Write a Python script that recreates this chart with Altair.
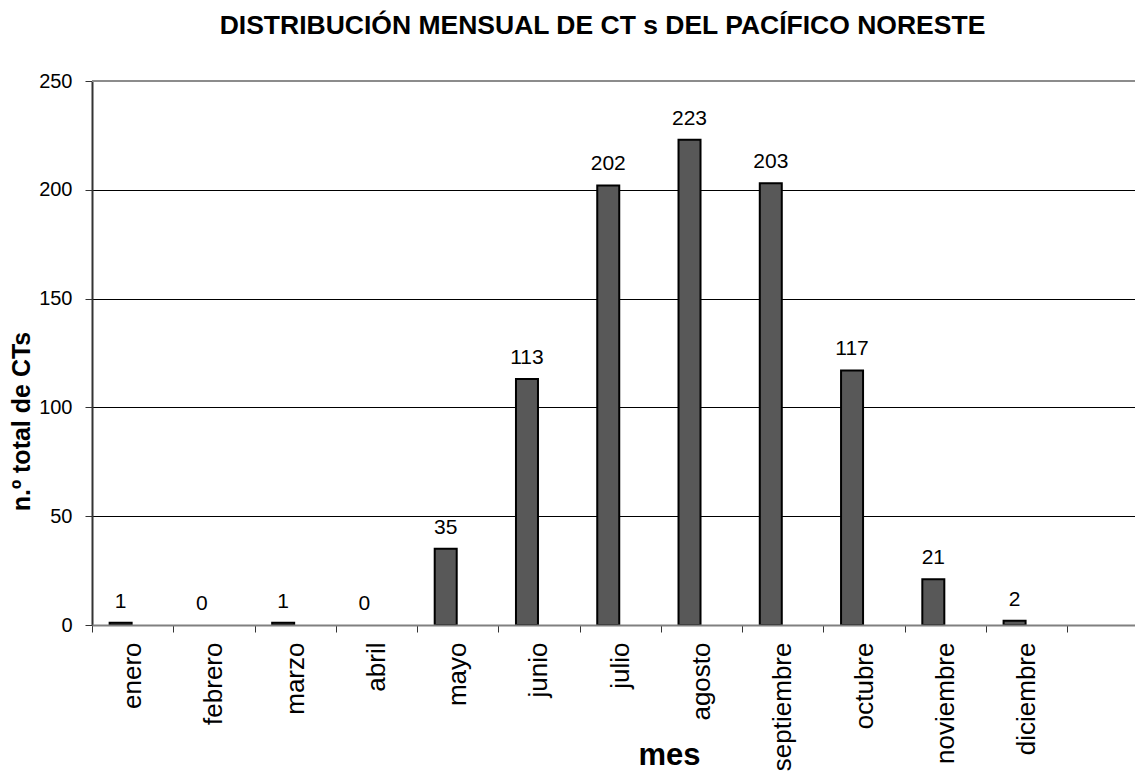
import altair as alt
import pandas as pd

meses = ["enero", "febrero", "marzo", "abril", "mayo", "junio", "julio",
         "agosto", "septiembre", "octubre", "noviembre", "diciembre"]
valores = [1, 0, 1, 0, 35, 113, 202, 223, 203, 117, 21, 2]
y_ticks = [0, 50, 100, 150, 200, 250]

df = pd.DataFrame({"mes": meses, "n": valores})

FONT = "Liberation Sans, Arial, sans-serif"

x_enc = alt.X(
    "mes:N", sort=meses, title="mes",
    scale=alt.Scale(paddingInner=0, paddingOuter=0.417, align=0),
    axis=alt.Axis(
        labelAngle=270, labelFontSize=26, labelFont=FONT, labelColor="black",
        labelPadding=10, labelOverlap=False, tickBand="extent", tickSize=7,
        tickColor="#333333", tickWidth=1, domainColor="#808080", domainWidth=2,
        grid=False, titleFontSize=31, titleFont=FONT, titleFontWeight="bold",
        titleColor="black", titleX=577, titleY=139, titleAlign="center",
        titleBaseline="alphabetic", zindex=1,
    ),
)

y_enc = alt.Y(
    "n:Q", title="n.º  total de CTs",
    scale=alt.Scale(domain=[0, 250], nice=False),
    axis=alt.Axis(
        values=y_ticks, grid=True, gridColor="black", gridWidth=1,
        tickSize=7, tickColor="#333333", tickWidth=1, domainColor="#333333",
        domainWidth=2, labelFontSize=20, labelFont=FONT, labelColor="black",
        labelPadding=13, titleFontSize=25, titleFont=FONT,
        titleFontWeight="bold", titleColor="black", titleX=-71, titleY=340,
        titleAngle=270, titleAlign="center", titleBaseline="middle",
    ),
)

base = alt.Chart(df)

bars = base.mark_bar(
    width=22, xOffset=-12, color="#585858", stroke="black", strokeWidth=2
).encode(x=x_enc, y=y_enc).transform_filter("datum.n > 0")

labels = base.mark_text(
    dy=-15, xOffset=-12, baseline="alphabetic", fontSize=21, font=FONT,
    color="black"
).encode(x=x_enc, y=y_enc, text="n:Q")

top_line = base.mark_rule(color="#8c8c8c", strokeWidth=2).encode(
    y=alt.datum(250)
)

chart = alt.layer(top_line, bars, labels).properties(
    width=1043,
    height=544,
    title=alt.TitleParams(
        "DISTRIBUCIÓN MENSUAL DE CT s DEL PACÍFICO NORESTE",
        fontSize=26.5, font=FONT, fontWeight="bold", color="black",
        anchor="middle", frame="group", offset=32, dx=-11,
    ),
    autosize=alt.AutoSizeParams(type="none"),
    padding={"left": 84, "top": 73, "right": 0, "bottom": 149},
).configure_view(strokeWidth=0).configure(background="white")

chart.save("out.html", embed_options={"renderer": "svg", "actions": False})
